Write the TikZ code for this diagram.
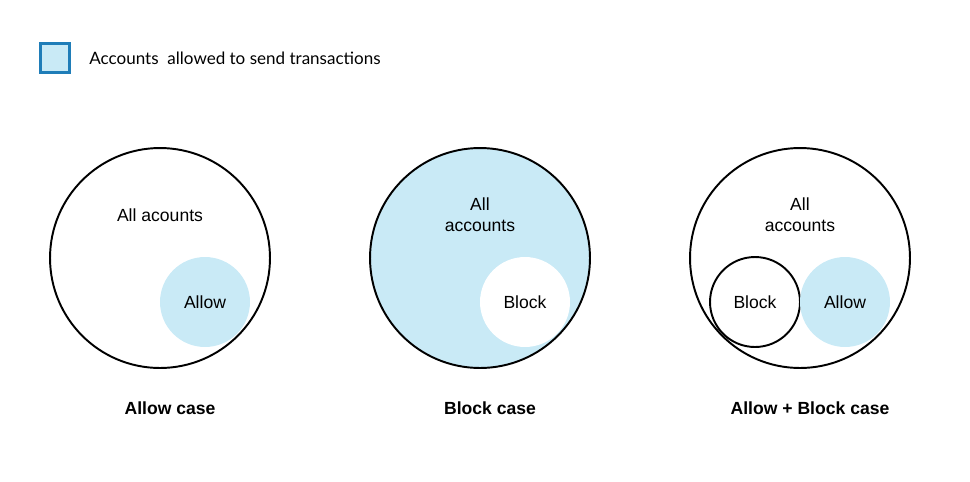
\documentclass[tikz,border=0pt]{standalone}
\usepackage{fontspec}
\setmainfont{Liberation Sans}
\newfontfamily\legendfont{Lato}
\definecolor{allowblue}{HTML}{C9EAF6}
\definecolor{legendedge}{HTML}{1F7DB8}
\tikzset{
  bigset/.style={circle, draw, line width=1.1pt, minimum size=4.4cm, inner sep=0pt},
  subset/.style={circle, minimum size=1.8cm, inner sep=0pt, font=\fontsize{10}{12}\selectfont},
  setlabel/.style={align=center, font=\fontsize{10}{12}\selectfont},
  caselabel/.style={font=\fontsize{10}{12}\selectfont\bfseries}
}
\begin{document}
\begin{tikzpicture}[x=0.02cm, y=-0.02cm]
          \useasboundingbox (0, 0) rectangle (970, 481);

          % Legend
          \node[draw=legendedge, fill=allowblue, line width=1.2pt, minimum size=0.58cm,
            inner sep=0pt] (key) at (55, 58) {};
          \node[anchor=west, inner sep=0pt, font=\legendfont\fontsize{9.7}{11}\selectfont]
            (keytext) at (89, 58) {Accounts\ \ allowed to send transactions};

          % Allow case
          \node[bigset] (allA) at (160, 258) {};
          \node[setlabel] (allAtext) at (160, 215) {All acounts};
          \node[subset, fill=allowblue] (allowA) at (205, 302) {Allow};
          \node[caselabel] (caseA) at (170, 408) {Allow case};

          % Block case
          \node[bigset, fill=allowblue] (allB) at (480, 258) {};
          \node[setlabel] (allBtext) at (480, 215) {All\\accounts};
          \node[subset, fill=white] (blockB) at (525, 302) {Block};
          \node[caselabel] (caseB) at (490, 408) {Block case};

          % Allow + Block case
          \node[bigset] (allC) at (800, 258) {};
          \node[setlabel] (allCtext) at (800, 215) {All\\accounts};
          \node[subset, draw, line width=1.1pt] (blockC) at (755, 302) {Block};
          \node[subset, fill=allowblue] (allowC) at (845, 302) {Allow};
          \node[caselabel] (caseC) at (810, 408) {Allow + Block case};
\end{tikzpicture}
\end{document}
